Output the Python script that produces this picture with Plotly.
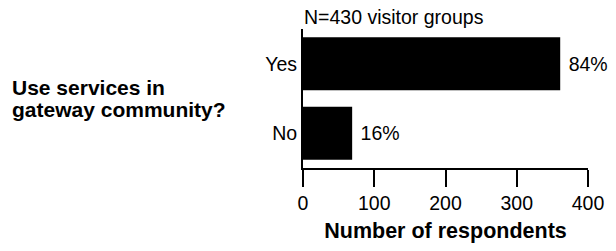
import plotly.graph_objects as go

categories = ["No", "Yes"]
respondents = [69, 361]
percent_labels = ["16%", "84%"]
x_ticks = [0, 100, 200, 300, 400]

FONT = "Liberation Sans, Arial, sans-serif"

W, H = 616, 251
L, T, R, B = 303, 29, 24, 78
PW = W - L - R
PH = H - T - B

fig = go.Figure(go.Bar(
    y=categories, x=respondents, orientation="h",
    marker=dict(color="black", line=dict(width=0)),
    text=percent_labels, texttemplate="\u00a0%{text}", textposition="outside", cliponaxis=False,
    textfont=dict(family=FONT, size=19.5, color="black"),
    width=0.76,
))

fig.update_layout(
    width=W, height=H,
    margin=dict(l=L, r=R, t=T, b=B),
    paper_bgcolor="white", plot_bgcolor="white",
    showlegend=False,
    font=dict(family=FONT, size=19.5, color="black"),
    xaxis=dict(
        range=[0, 400], tickvals=x_ticks, showgrid=False, zeroline=False,
        showline=True, linecolor="black", linewidth=2,
        ticks="outside", ticklen=17, tickwidth=2, tickcolor="black",
        tickfont=dict(family=FONT, size=19.5),
        title=dict(text="<b>Number of respondents</b>", font=dict(family=FONT, size=21.5), standoff=10),
        fixedrange=True,
    ),
    yaxis=dict(
        range=[-0.5, 1.5], showgrid=False, zeroline=False,
        showline=True, linecolor="black", linewidth=2,
        ticks="", tickfont=dict(family=FONT, size=19.5),
        fixedrange=True,
    ),
    annotations=[
        dict(text="N=430 visitor groups", xref="paper", yref="paper", x=0, y=1,
             xanchor="left", yanchor="bottom", showarrow=False, borderpad=0,
             font=dict(family=FONT, size=19.5)),
        dict(text="<b>Use services in</b>", xref="paper", yref="paper",
             x=-(303 - 6) / PW, y=(173 - 89.5) / PH, xanchor="left", yanchor="middle", align="left",
             showarrow=False, font=dict(family=FONT, size=21)),
        dict(text="<b>gateway community?</b>", xref="paper", yref="paper",
             x=-(303 - 6) / PW, y=(173 - 112.5) / PH, xanchor="left", yanchor="middle", align="left",
             showarrow=False, font=dict(family=FONT, size=21)),
    ],
)

fig.write_html("out.html", config={"displayModeBar": False},
               post_script="document.body.style.margin='0';")
